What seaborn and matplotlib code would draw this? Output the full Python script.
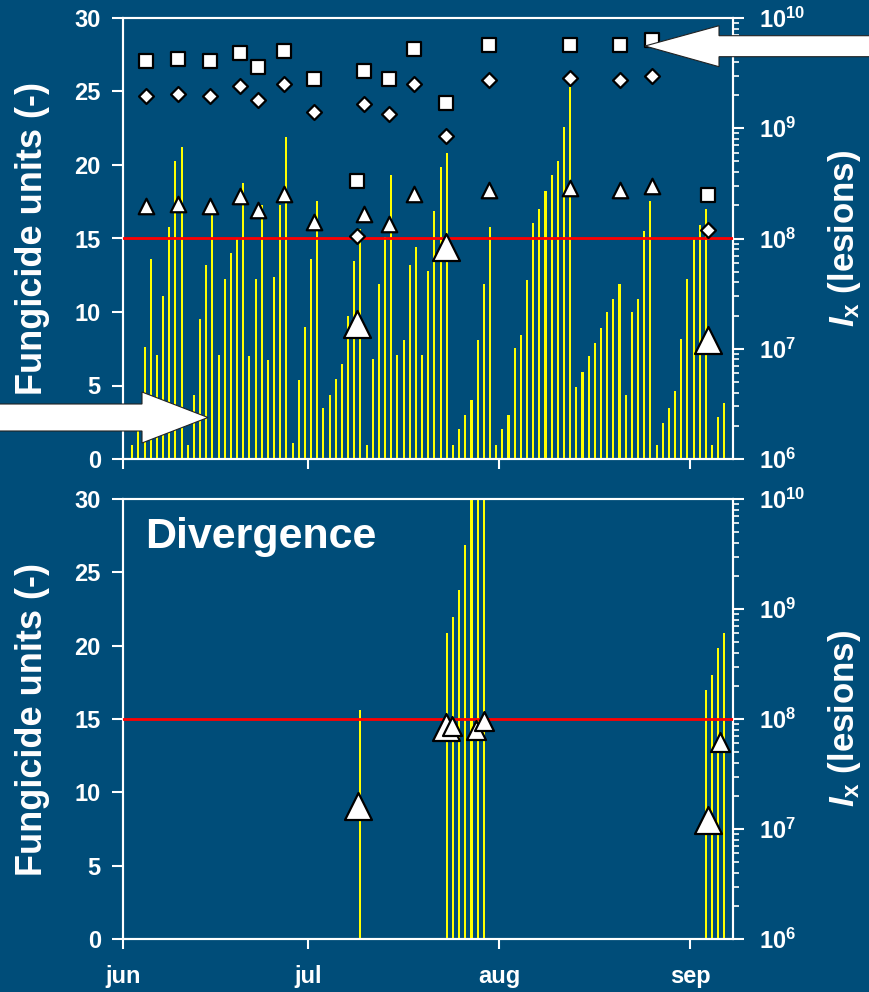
import numpy as np
import pandas as pd
import matplotlib
matplotlib.use('Agg')
import matplotlib.pyplot as plt
import seaborn as sns
from matplotlib.patches import Polygon
from matplotlib.ticker import LogLocator, FuncFormatter, NullFormatter

# ---------------- data ----------------
month_ticks = [0, 30, 61, 92]          # days since 1 June
month_labels = ['jun', 'jul', 'aug', 'sep']

# daily infection pressure I_x (lesions), one bar per day, first bar at day 1.5
bar_days = list(np.arange(97) + 1.5)
ix_top = [1.34e6, 1.79e6, 1.04e7, 6.52e7, 8.77e6, 3.01e7, 1.28e8, 5.05e8, 6.76e8, 1.34e6,
          3.80e6, 1.86e7, 5.75e7, 1.63e8, 8.77e6, 4.30e7, 7.38e7, 9.84e7, 3.18e8, 8.59e6,
          4.30e7, 2.01e8, 7.91e6, 4.48e7, 2.01e8, 8.32e8, 1.40e6, 5.21e6, 1.57e7, 6.52e7,
          2.19e8, 2.90e6, 3.80e6, 5.32e6, 7.28e6, 1.98e7, 6.25e7, 1.22e8, 1.34e6, 8.07e6,
          3.86e7, 1.03e8, 3.77e8, 8.77e6, 1.20e7, 5.75e7, 8.38e7, 8.77e6, 5.07e7, 1.77e8,
          4.46e8, 5.96e8, 1.34e6, 1.87e6, 2.51e6, 3.43e6, 1.20e7, 3.86e7, 1.27e8, 1.34e6,
          1.87e6, 2.51e6, 1.02e7, 1.33e7, 4.21e7, 1.38e8, 1.85e8, 2.70e8, 3.77e8, 5.05e8,
          1.02e9, 2.37e9, 4.50e6, 6.15e6, 8.59e6, 1.13e7, 1.54e7, 2.15e7, 2.82e7, 3.86e7,
          3.80e6, 2.15e7, 2.82e7, 1.17e8, 2.19e8, 1.34e6, 2.12e6, 2.90e6, 4.14e6, 1.22e7,
          4.30e7, 9.89e7, 1.32e8, 1.85e8, 1.34e6, 2.40e6, 3.22e6]

# divergence panel bars
div_bar_days = [38.5, 52.5, 53.5, 54.5, 55.5, 56.5, 57.5, 58.5, 94.5, 95.5, 96.5, 97.5]
ix_div = [1.22e8, 6.0e8, 8.5e8, 1.5e9, 3.8e9, 2.0e10, 2.0e10, 2.0e10, 1.85e8, 2.5e8, 4.4e8, 6.0e8]

# fungicide units (top panel)
spray_days = [3.7, 8.9, 14.1, 18.9, 21.9, 26.1, 30.9, 39.0, 43.2, 47.1, 59.4, 72.4, 80.5, 85.7]
units_square = [27.07, 27.21, 27.07, 27.62, 26.67, 27.76, 25.85, 26.39, 25.85, 27.89, 28.16, 28.16, 28.16, 28.5]
units_diamond = [24.69, 24.83, 24.69, 25.37, 24.42, 25.51, 23.61, 24.15, 23.47, 25.51, 25.78, 25.92, 25.78, 26.05]
units_triangle = [17.19, 17.35, 17.19, 17.89, 16.94, 18.01, 16.1, 16.65, 15.97, 18.01, 18.28, 18.41, 18.28, 18.55]

div_days = [38.0, 52.3, 94.8]
div_square = [18.91, 24.22, 17.96]
div_diamond = [15.2, 21.97, 15.58]
div_triangle = [9.18, 14.44, 8.07]

# bottom panel (divergence)
bot_big_days = [38.1, 52.4, 94.85]
bot_big_units = [9.07, 14.47, 8.08]
bot_mid_days = [53.4, 57.3, 58.6, 96.8]
bot_mid_units = [14.5, 14.23, 14.88, 13.4]

threshold_units = 15

# ---------------- style ----------------
BG = '#004d79'
YEL = '#ffff00'
sns.set_style('ticks')
plt.rcParams['font.family'] = ['Liberation Sans', 'DejaVu Sans']
plt.rcParams['font.weight'] = 'bold'
plt.rcParams['mathtext.fontset'] = 'custom'
plt.rcParams['mathtext.rm'] = 'Liberation Sans:bold'
plt.rcParams['mathtext.bf'] = 'Liberation Sans:bold'
plt.rcParams['mathtext.it'] = 'Liberation Sans:italic:bold'
plt.rcParams['axes.linewidth'] = 1.5

W, H = 869, 992
fig = plt.figure(figsize=(W / 100, H / 100), dpi=100, facecolor=BG)

def px_axes(l, t, r, b):
    return fig.add_axes([l / W, 1 - b / H, (r - l) / W, (b - t) / H])

ax_top = px_axes(123, 18, 733, 459)
ax_bot = px_axes(123, 499, 733, 939)

XMAX = 98.9
logfmt = FuncFormatter(lambda v, p: r'$\mathbf{10^{%d}}$' % int(round(np.log10(v))))

def style(ax, bar_x, bar_y, show_xlabels):
    ax2 = ax.twinx()
    ax.set_zorder(ax2.get_zorder() + 1)
    ax.patch.set_visible(False)
    df = pd.DataFrame({'day': bar_x, 'Ix': bar_y})
    sns.barplot(data=df, x='day', y='Ix', native_scale=True, color=YEL, saturation=1,
                width=0.33, errorbar=None, log_scale=(False, True), ax=ax2,
                edgecolor='none', linewidth=0)
    # bars start at zero: clip (not mask) non-positive values on the log axis
    ax2.set_yscale('log', nonpositive='clip')
    ax2.set_ylim(1e6, 1e10)
    ax2.yaxis.set_major_locator(LogLocator(base=10, numticks=10))
    ax2.yaxis.set_minor_locator(LogLocator(base=10, subs=np.arange(2, 10), numticks=20))
    ax2.yaxis.set_major_formatter(logfmt)
    ax2.yaxis.set_minor_formatter(NullFormatter())
    ax2.tick_params(axis='y', which='major', colors='white', length=8, width=1.5,
                    labelsize=17, pad=11, direction='out')
    ax2.tick_params(axis='y', which='minor', colors='white', length=4, width=1.2, direction='out')
    ax2.set_ylabel(r'$\mathit{I}_{\mathbf{x}}$ (lesions)', color='white', fontsize=25,
                   fontweight='bold')
    ax2.set_xlabel('')

    ax.axhline(threshold_units, color='red', lw=2, zorder=3)
    ax.set_ylim(0, 30)
    ax.set_xlim(0, XMAX)
    ax2.set_xlim(0, XMAX)
    ax.set_yticks(range(0, 31, 5))
    ax.set_xticks(month_ticks)
    ax.set_xticklabels(month_labels if show_xlabels else [])
    ax.tick_params(axis='y', colors='white', length=8, width=1.5, labelsize=17, pad=8)
    ax.tick_params(axis='x', colors='white', length=7, width=1.5, labelsize=17, pad=12)
    ax.set_ylabel('Fungicide units (-)', color='white', fontsize=26, fontweight='bold')
    ax.yaxis.set_label_coords(-0.12, 0.5)
    ax2.yaxis.set_label_coords(1.153, 0.5)
    for a in (ax, ax2):
        for s in a.spines.values():
            s.set_color('white')
            s.set_linewidth(1.5)
            s.set_visible(True)
    return ax2

ax2_top = style(ax_top, bar_days, ix_top, False)
ax2_bot = style(ax_bot, div_bar_days, ix_div, True)

mk = dict(color='white', edgecolor='black', linewidth=1.6, legend=False, zorder=5)
sns.scatterplot(x=spray_days, y=units_square, marker='s', s=92, ax=ax_top, **mk)
sns.scatterplot(x=spray_days, y=units_diamond, marker='D', s=58, ax=ax_top, **mk)
sns.scatterplot(x=spray_days, y=units_triangle, marker='^', s=125, ax=ax_top, **mk)
sns.scatterplot(x=div_days, y=div_square, marker='s', s=92, ax=ax_top, **mk)
sns.scatterplot(x=div_days, y=div_diamond, marker='D', s=58, ax=ax_top, **mk)
sns.scatterplot(x=div_days, y=div_triangle, marker='^', s=378, ax=ax_top, **mk)

sns.scatterplot(x=bot_big_days, y=bot_big_units, marker='^', s=378, ax=ax_bot, **mk)
sns.scatterplot(x=bot_mid_days, y=bot_mid_units, marker='^', s=187, ax=ax_bot, **mk)

for a in (ax_top, ax_bot):
    a.set_xlim(0, XMAX)
    a.set_ylim(0, 30)
    a.set_xlabel('')

ax_bot.text(0.036, 0.958, 'Divergence', transform=ax_bot.transAxes, color='white',
            fontsize=31, fontweight='bold', ha='left', va='top', zorder=6)

# annotation arrows (pixel geometry -> inches)
def px_poly(pts):
    return [(x / 100, (H - y) / 100) for x, y in pts]

left_arrow = px_poly([(-5, 404), (142, 404), (142, 392), (208, 417.5), (142, 443),
                      (142, 431), (-5, 431)])
right_arrow = px_poly([(875, 35.7), (719, 35.7), (719, 25.7), (645, 46), (719, 66.7),
                       (719, 56.7), (875, 56.7)])
for pts in (left_arrow, right_arrow):
    fig.add_artist(Polygon(pts, closed=True, facecolor='white', edgecolor='#222222',
                           lw=0.8, transform=fig.dpi_scale_trans, zorder=20))

fig.savefig('out.png', dpi=100, facecolor=BG)
